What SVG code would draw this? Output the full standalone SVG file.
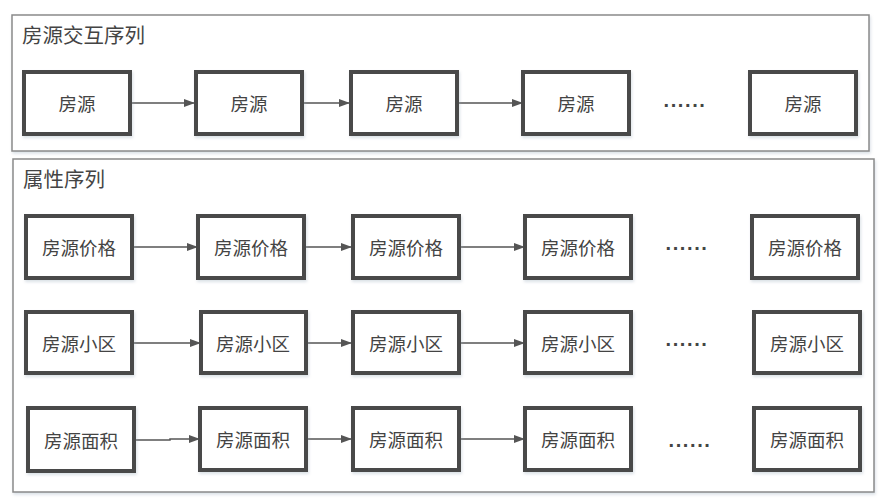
<svg xmlns="http://www.w3.org/2000/svg" width="883" height="500" viewBox="0 0 883 500">
<style>
.frame{fill:#fff;stroke:#8a8a8a;stroke-width:1.5}
.box{fill:#fff;stroke:#4a4a4a;stroke-width:4}
.lbl{font-family:"Noto Sans CJK SC","Liberation Sans",sans-serif;font-size:18.5px;fill:#444;text-anchor:middle;dominant-baseline:central}
.ttl{font-family:"Noto Sans CJK SC","Liberation Sans",sans-serif;font-size:20.5px;fill:#444}
.dots{font-family:"Liberation Sans",sans-serif;font-size:20px;font-weight:bold;fill:#444;text-anchor:middle;letter-spacing:1.6px}
.edge{fill:none;stroke:#555;stroke-width:1.5}
</style>
<defs>
<marker id="arr" viewBox="0 0 11 10" refX="11" refY="5" markerWidth="11" markerHeight="10" markerUnits="userSpaceOnUse" orient="auto">
<path d="M0,1 L11,5 L0,9 Z" fill="#555"/>
</marker>
<filter id="sh" x="-10%" y="-10%" width="130%" height="140%">
<feDropShadow dx="1" dy="2" stdDeviation="1.5" flood-color="#9ab" flood-opacity="0.35"/>
</filter>
</defs>
<rect width="883" height="500" fill="#fff"/>

<g id="frame-interact">
<rect class="frame" x="12" y="15" width="857" height="136" filter="url(#sh)"/>
<text class="ttl" x="22" y="43">房源交互序列</text>
</g>
<g id="frame-attr">
<rect class="frame" x="13" y="159" width="861" height="333" filter="url(#sh)"/>
<text class="ttl" x="23" y="187">属性序列</text>
</g>

<g id="connectors">
<line class="edge" x1="130" y1="103" x2="195" y2="103" marker-end="url(#arr)"/>
<line class="edge" x1="302" y1="103" x2="350" y2="103" marker-end="url(#arr)"/>
<line class="edge" x1="457" y1="103" x2="523" y2="103" marker-end="url(#arr)"/>

<line class="edge" x1="132" y1="247" x2="198" y2="247" marker-end="url(#arr)"/>
<line class="edge" x1="304" y1="247" x2="352" y2="247" marker-end="url(#arr)"/>
<line class="edge" x1="459" y1="247" x2="525" y2="247" marker-end="url(#arr)"/>

<line class="edge" x1="132" y1="343" x2="201" y2="343" marker-end="url(#arr)"/>
<line class="edge" x1="306" y1="343" x2="352" y2="343" marker-end="url(#arr)"/>
<line class="edge" x1="459" y1="343" x2="525" y2="343" marker-end="url(#arr)"/>

<polyline class="edge" points="134,440 170,440 170,439 200,439" marker-end="url(#arr)"/>
<line class="edge" x1="306" y1="439" x2="352" y2="439" marker-end="url(#arr)"/>
<line class="edge" x1="459" y1="439" x2="525" y2="439" marker-end="url(#arr)"/>
</g>

<g id="r0n1"><rect class="box" x="24" y="72" width="106" height="62" filter="url(#sh)"/><text class="lbl" x="77" y="103">房源</text></g>
<g id="r0n2"><rect class="box" x="196" y="72" width="106" height="62" filter="url(#sh)"/><text class="lbl" x="249" y="103">房源</text></g>
<g id="r0n3"><rect class="box" x="351" y="72" width="106" height="62" filter="url(#sh)"/><text class="lbl" x="404" y="103">房源</text></g>
<g id="r0n4"><rect class="box" x="523" y="72" width="106" height="62" filter="url(#sh)"/><text class="lbl" x="576" y="103">房源</text></g>
<g id="r0dots"><text class="dots" x="685" y="107">......</text></g>
<g id="r0n5"><rect class="box" x="750" y="72" width="106" height="62" filter="url(#sh)"/><text class="lbl" x="803" y="103">房源</text></g>

<g id="r1n1"><rect class="box" x="26" y="216" width="106" height="62" filter="url(#sh)"/><text class="lbl" x="79" y="247">房源价格</text></g>
<g id="r1n2"><rect class="box" x="198" y="216" width="106" height="62" filter="url(#sh)"/><text class="lbl" x="251" y="247">房源价格</text></g>
<g id="r1n3"><rect class="box" x="353" y="216" width="106" height="62" filter="url(#sh)"/><text class="lbl" x="406" y="247">房源价格</text></g>
<g id="r1n4"><rect class="box" x="525" y="216" width="106" height="62" filter="url(#sh)"/><text class="lbl" x="578" y="247">房源价格</text></g>
<g id="r1dots"><text class="dots" x="687" y="250">......</text></g>
<g id="r1n5"><rect class="box" x="752" y="216" width="106" height="62" filter="url(#sh)"/><text class="lbl" x="805" y="247">房源价格</text></g>

<g id="r2n1"><rect class="box" x="26" y="312" width="106" height="61" filter="url(#sh)"/><text class="lbl" x="79" y="343">房源小区</text></g>
<g id="r2n2"><rect class="box" x="201" y="312" width="105" height="61" filter="url(#sh)"/><text class="lbl" x="253" y="343">房源小区</text></g>
<g id="r2n3"><rect class="box" x="353" y="312" width="106" height="61" filter="url(#sh)"/><text class="lbl" x="406" y="343">房源小区</text></g>
<g id="r2n4"><rect class="box" x="525" y="312" width="106" height="61" filter="url(#sh)"/><text class="lbl" x="578" y="343">房源小区</text></g>
<g id="r2dots"><text class="dots" x="687" y="346">......</text></g>
<g id="r2n5"><rect class="box" x="754" y="312" width="106" height="61" filter="url(#sh)"/><text class="lbl" x="807" y="343">房源小区</text></g>

<g id="r3n1"><rect class="box" x="28" y="408" width="106" height="63" filter="url(#sh)"/><text class="lbl" x="81" y="440">房源面积</text></g>
<g id="r3n2"><rect class="box" x="200" y="408" width="106" height="62" filter="url(#sh)"/><text class="lbl" x="253" y="439">房源面积</text></g>
<g id="r3n3"><rect class="box" x="353" y="408" width="106" height="62" filter="url(#sh)"/><text class="lbl" x="406" y="439">房源面积</text></g>
<g id="r3n4"><rect class="box" x="525" y="408" width="106" height="62" filter="url(#sh)"/><text class="lbl" x="578" y="439">房源面积</text></g>
<g id="r3dots"><text class="dots" x="690" y="447">......</text></g>
<g id="r3n5"><rect class="box" x="754" y="408" width="106" height="62" filter="url(#sh)"/><text class="lbl" x="807" y="439">房源面积</text></g>
</svg>
